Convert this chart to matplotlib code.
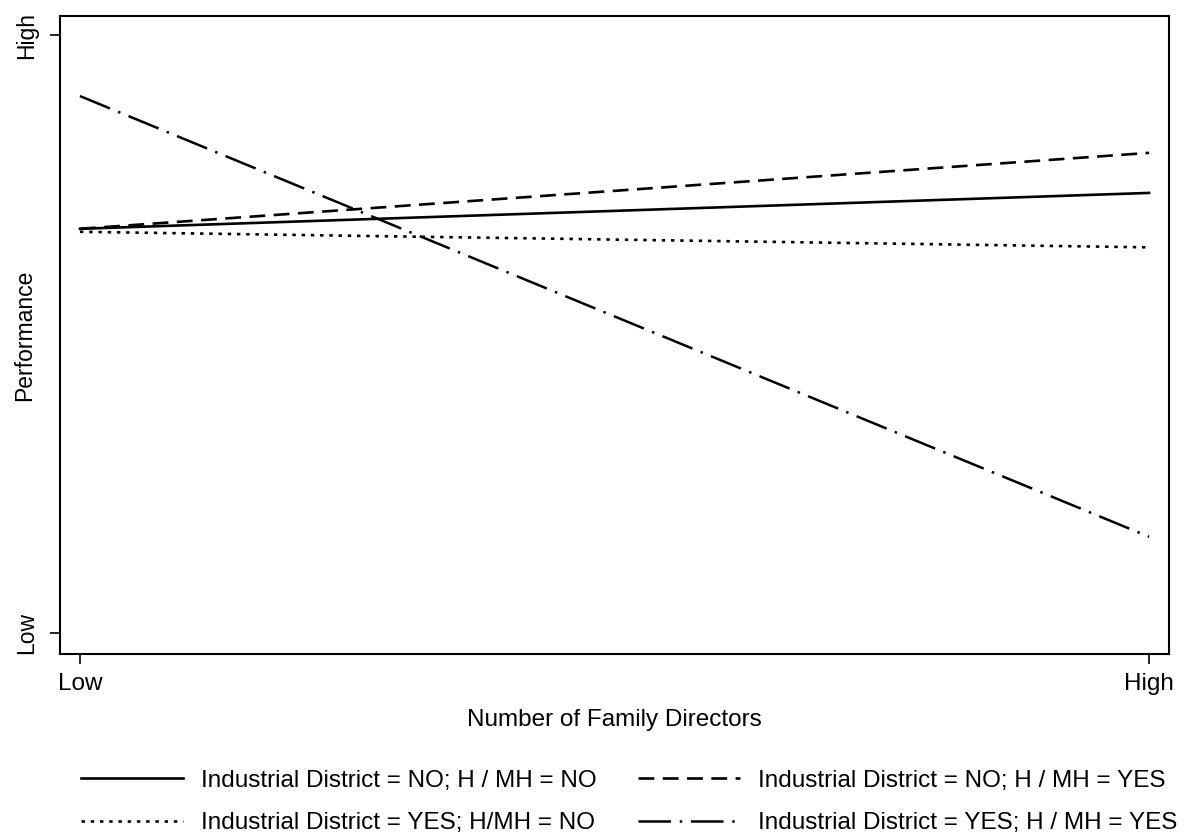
import matplotlib.pyplot as plt

plt.rcParams['font.family'] = ['Liberation Sans', 'DejaVu Sans']

# x positions: 0 = Low, 1 = High number of family directors
x = [0, 1]
nd_no = [0.676, 0.736]      # Industrial District = NO; H / MH = NO
nd_yes = [0.676, 0.803]     # Industrial District = NO; H / MH = YES
yd_no = [0.671, 0.645]      # Industrial District = YES; H/MH = NO
yd_yes = [0.898, 0.161]     # Industrial District = YES; H / MH = YES

labels = ['Industrial District = NO; H / MH = NO',
          'Industrial District = NO; H / MH = YES',
          'Industrial District = YES; H/MH = NO',
          'Industrial District = YES; H / MH = YES']
tick_labels = ['Low', 'High']

fs = 17.5

fig = plt.figure(figsize=(12.04, 8.38), dpi=100)
ax = fig.add_axes([0.0498, 0.2196, 0.9212, 0.7614])

l1, = ax.plot(x, nd_no, color='black', lw=1.9, linestyle='-')
l2, = ax.plot(x, nd_yes, color='black', lw=1.9, linestyle=(0, (6, 3.2)))
l3, = ax.plot(x, yd_no, color='black', lw=1.9, linestyle=(0, (1.3, 2.2)))
l4, = ax.plot(x, yd_yes, color='black', lw=1.8, linestyle=(0, (13, 3.5, 1, 3.5)))

ax.set_xlim(-0.0187, 1.0187)
ax.set_ylim(-0.035, 1.032)
ax.set_xticks([0, 1])
ax.set_xticklabels(tick_labels, fontsize=fs)
ax.set_yticks([0, 1])
ax.set_yticklabels(tick_labels, fontsize=fs - 1, rotation=90, va='center')
ax.tick_params(direction='out', length=7, width=1.2, colors='black')
ax.tick_params(axis='x', pad=7)
ax.tick_params(axis='y', pad=9)
for s in ax.spines.values():
    s.set_linewidth(1.5)

ax.set_xlabel('Number of Family Directors', fontsize=fs, labelpad=10)
ax.set_ylabel('Performance', fontsize=fs - 1, va='center')
ax.yaxis.set_label_coords(-0.0315, 0.5)

# legend rows: solid/dashed on top, dotted/dash-dot below
fig.legend([l1, l3, l2, l4], [labels[0], labels[2], labels[1], labels[3]],
           ncol=2, loc='center', bbox_to_anchor=(0.5225, 0.043),
           frameon=False, fontsize=fs, handlelength=4.2, handletextpad=0.75,
           columnspacing=1.7, labelspacing=0.85, borderpad=0)

fig.savefig('out.png', dpi=100)
